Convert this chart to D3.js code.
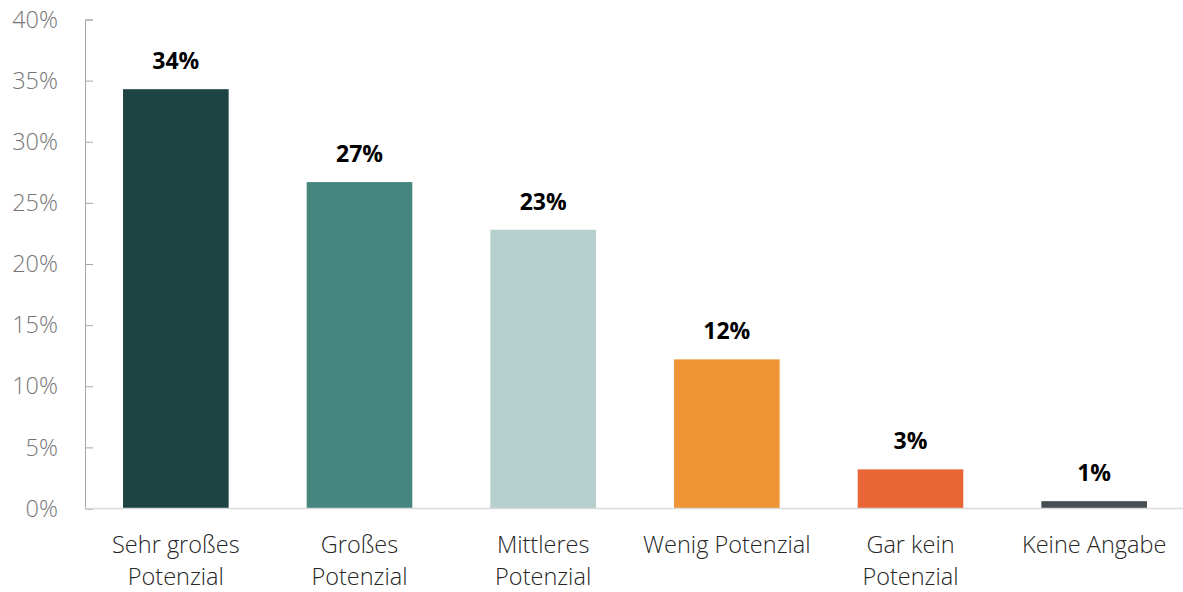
<!DOCTYPE html>
<html>
<head>
<meta charset="utf-8">
<script src="https://cdn.jsdelivr.net/npm/d3@7"></script>
<style>
    body { margin: 0; background: #fff; }
    svg { display: block; font-family: 'Open Sans', 'Noto Sans', sans-serif; }
</style>
</head>
<body>
<div id="chart"></div>
<script>
const categories = [['Sehr großes', 'Potenzial'], ['Großes', 'Potenzial'], ['Mittleres', 'Potenzial'], ['Wenig Potenzial'], ['Gar kein', 'Potenzial'], ['Keine Angabe']]
const values = [34.3, 26.7, 22.8, 12.2, 3.2, 0.6]
const valueLabels = ['34%', '27%', '23%', '12%', '3%', '1%']
const colors = ['#1d4343', '#46867e', '#b5cfcc', '#f09535', '#e96535', '#454e50']
const yTicks = [0, 5, 10, 15, 20, 25, 30, 35, 40]

const width = 1183
const height = 592
const margin = { top: 19.5, right: 0, bottom: 83.5, left: 85 }

const svg = d3.select('#chart').append('svg').attr('width', width).attr('height', height)

const idx = categories.map((d, i) => i)
const x = d3.scaleBand().domain(idx).range([margin.left - 1, width + 3]).paddingInner(0.425).paddingOuter(0.2125)
const y = d3.scaleLinear().domain([0, 40]).range([height - margin.bottom, margin.top])

// y axis
const gY = svg.append('g').attr('transform', `translate(${margin.left}, 0)`)
gY.call(d3.axisRight(y).tickValues(yTicks).tickSize(8).tickFormat((d) => ''))
gY.select('.domain').attr('stroke', '#a6a6a6')
gY.selectAll('line').attr('stroke', '#a6a6a6')

svg.append('g')
    .selectAll('text')
    .data(yTicks)
    .enter()
    .append('text')
    .attr('x', 58)
    .attr('y', (d) => y(d))
    .attr('dy', '0.35em')
    .attr('text-anchor', 'end')
    .attr('fill', '#767676')
    .style('font-size', '23.5px')
    .style('font-weight', 300)
    .text((d) => `${d}%`)

// bars
svg.append('g')
    .selectAll('rect')
    .data(values)
    .enter()
    .append('rect')
    .attr('x', (d, i) => x(i))
    .attr('width', x.bandwidth())
    .attr('y', (d) => y(d))
    .attr('height', (d) => y(0) - y(d))
    .attr('fill', (d, i) => colors[i])

// baseline
svg.append('line')
    .attr('x1', margin.left)
    .attr('x2', width)
    .attr('y1', y(0))
    .attr('y2', y(0))
    .attr('stroke', '#d9d9d9')
    .attr('stroke-width', 1.5)

// value labels
svg.append('g')
    .selectAll('text')
    .data(values)
    .enter()
    .append('text')
    .attr('x', (d, i) => x(i) + x.bandwidth() / 2)
    .attr('y', (d) => y(d) - 20)
    .attr('text-anchor', 'middle')
    .attr('fill', '#000')
    .style('font-size', '23px')
    .style('font-weight', 'bold')
    .text((d, i) => valueLabels[i])

// category labels
const gX = svg.append('g')
categories.forEach((lines, i) => {
    const t = gX.append('text')
        .attr('x', x(i) + x.bandwidth() / 2)
        .attr('y', 553)
        .attr('text-anchor', 'middle')
        .attr('fill', '#262626')
        .style('font-size', '23.5px')
        .style('font-weight', 300)
    lines.forEach((l, j) => {
        t.append('tspan').attr('x', x(i) + x.bandwidth() / 2).attr('dy', j ? 32 : 0).text(l)
    })
})
</script>
</body>
</html>
